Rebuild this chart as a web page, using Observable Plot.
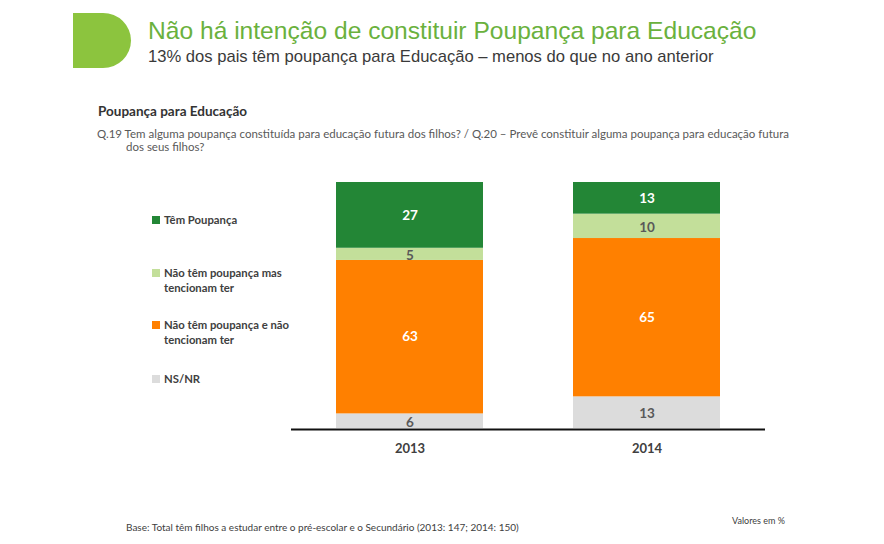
<!DOCTYPE html>
<html>
<head>
<meta charset="utf-8">
<script src="https://cdn.jsdelivr.net/npm/d3@7"></script>
<script src="https://cdn.jsdelivr.net/npm/@observablehq/plot@0.6"></script>
<style>
  html, body { margin: 0; padding: 0; background: #fff; }
  #page { position: relative; width: 884px; height: 544px; overflow: hidden; background: #fff; }
  .abs { position: absolute; white-space: nowrap; }
  .logo { position: absolute; left: 73px; top: 13px; width: 58px; height: 55px; background: #8cc43e; border-radius: 0 28px 28px 0 / 0 27.5px 27.5px 0; }
  .title { left: 148px; top: 19.3px; font: 24.6px/24.6px "Liberation Sans", Arial, sans-serif; color: #6ab13d; }
  .subtitle { left: 148px; top: 49.2px; font: 16.6px/16.6px "Liberation Sans", Arial, sans-serif; color: #3a3a3a; }
  .section { left: 98px; top: 105px; font: bold 13.5px/13.5px Lato, sans-serif; color: #333; }
  .q { font: 11.5px/11.5px Lato, sans-serif; color: #595959; }
  .leg { font: bold 11.3px/11.3px Lato, sans-serif; color: #404040; left: 164px; }
  .sw { position: absolute; left: 152px; width: 8px; height: 8px; }
  .foot { font: 10px/10px Lato, sans-serif; color: #404040; }
  #chart { position: absolute; left: 0; top: 170px; }
</style>
</head>
<body>
<div id="page">
  <div class="logo"></div>
  <div class="abs title" id="title"></div>
  <div class="abs subtitle" id="subtitle"></div>
  <div class="abs section" id="section"></div>
  <div class="abs q" id="q1" style="left:97px; top:127.5px;"></div>
  <div class="abs q" id="q2" style="left:126px; top:141px;"></div>
  <div id="legend"></div>
  <div id="chart"></div>
  <div class="abs foot" id="base" style="left:126px; top:521.5px;"></div>
  <div class="abs foot" id="unit" style="left:732px; top:516px; font-size:9px;"></div>
</div>
<script>
// ---- Data ----
const years = ["2013", "2014"];
// stacking order: bottom to top
const categories = [
  "NS/NR",
  "Não têm poupança e não tencionam ter",
  "Não têm poupança mas tencionam ter",
  "Têm Poupança"
];
const values2013 = [6, 63, 5, 27];
const values2014 = [13, 65, 10, 13];
const colors = ["#dcdcdc", "#ff8000", "#c3df9a", "#238636"];
const darkLabelCats = ["NS/NR", "Não têm poupança mas tencionam ter"];

// legend order (top to bottom) and wrapped lines
const legendCats = ["Têm Poupança", "Não têm poupança mas tencionam ter", "Não têm poupança e não tencionam ter", "NS/NR"];
const legendLines = [["Têm Poupança"], ["Não têm poupança mas", "tencionam ter"], ["Não têm poupança e não", "tencionam ter"], ["NS/NR"]];

const titleText = "Não há intenção de constituir Poupança para Educação";
const subtitleText = "13% dos pais têm poupança para Educação – menos do que no ano anterior";
const sectionText = "Poupança para Educação";
const questionLines = [
  "Q.19 Tem alguma poupança constituída para educação futura dos filhos? / Q.20 – Prevê constituir alguma poupança para educação futura",
  "dos seus filhos?"
];
const baseText = "Base: Total têm filhos a estudar entre o pré-escolar e o Secundário (2013: 147; 2014: 150)";
const unitText = "Valores em %";

// ---- Text ----
document.getElementById("title").textContent = titleText;
document.getElementById("subtitle").textContent = subtitleText;
document.getElementById("section").textContent = sectionText;
document.getElementById("q1").textContent = questionLines[0];
document.getElementById("q2").textContent = questionLines[1];
document.getElementById("base").textContent = baseText;
document.getElementById("unit").textContent = unitText;

// ---- Legend ----
const legendTops = [214, 267, 319, 373];
const legend = document.getElementById("legend");
legendCats.forEach((c, i) => {
  const sw = document.createElement("div");
  sw.className = "sw";
  sw.style.top = (legendTops[i] + 2) + "px";
  sw.style.background = colors[categories.indexOf(c)];
  legend.appendChild(sw);
  legendLines[i].forEach((line, j) => {
    const t = document.createElement("div");
    t.className = "abs leg";
    t.style.top = (legendTops[i] + j * 14.5) + "px";
    t.textContent = line;
    legend.appendChild(t);
  });
});

// ---- Chart ----
const rows = [];
years.forEach((y, yi) => {
  const vals = yi === 0 ? values2013 : values2014;
  categories.forEach((c, ci) => rows.push({year: y, cat: c, value: vals[ci]}));
});

const chart = Plot.plot({
  width: 884,
  height: 298,
  marginLeft: 291,
  marginRight: 119,
  marginTop: 12,
  marginBottom: 40,
  style: {fontFamily: "Lato, sans-serif", fontSize: "13px", color: "#404040", background: "transparent"},
  x: {domain: years, paddingInner: 0.38, paddingOuter: 0.19, label: null},
  y: {domain: [0, 101], axis: null},
  color: {domain: categories, range: colors},
  marks: [
    Plot.barY(rows, {x: "year", y: "value", fill: "cat", z: "cat"}),
    Plot.text(rows, Plot.stackY({
      x: "year", y: "value", z: "cat",
      text: d => darkLabelCats.includes(d.cat) ? "" : String(d.value),
      fill: "white", fontWeight: "bold", fontSize: 13.5
    })),
    Plot.text(rows, Plot.stackY({
      x: "year", y: "value", z: "cat",
      text: d => darkLabelCats.includes(d.cat) ? String(d.value) : "",
      fill: "#595959", fontWeight: "bold", fontSize: 13.5, dy: 1
    })),
    Plot.ruleY([0], {stroke: "#111", strokeWidth: 2.2, dy: 1}),
    Plot.axisX({tickSize: 0, tickPadding: 15, fontWeight: "bold", fontSize: 13, fill: "#404040", label: null})
  ]
});
document.getElementById("chart").appendChild(chart);
</script>
</body>
</html>
